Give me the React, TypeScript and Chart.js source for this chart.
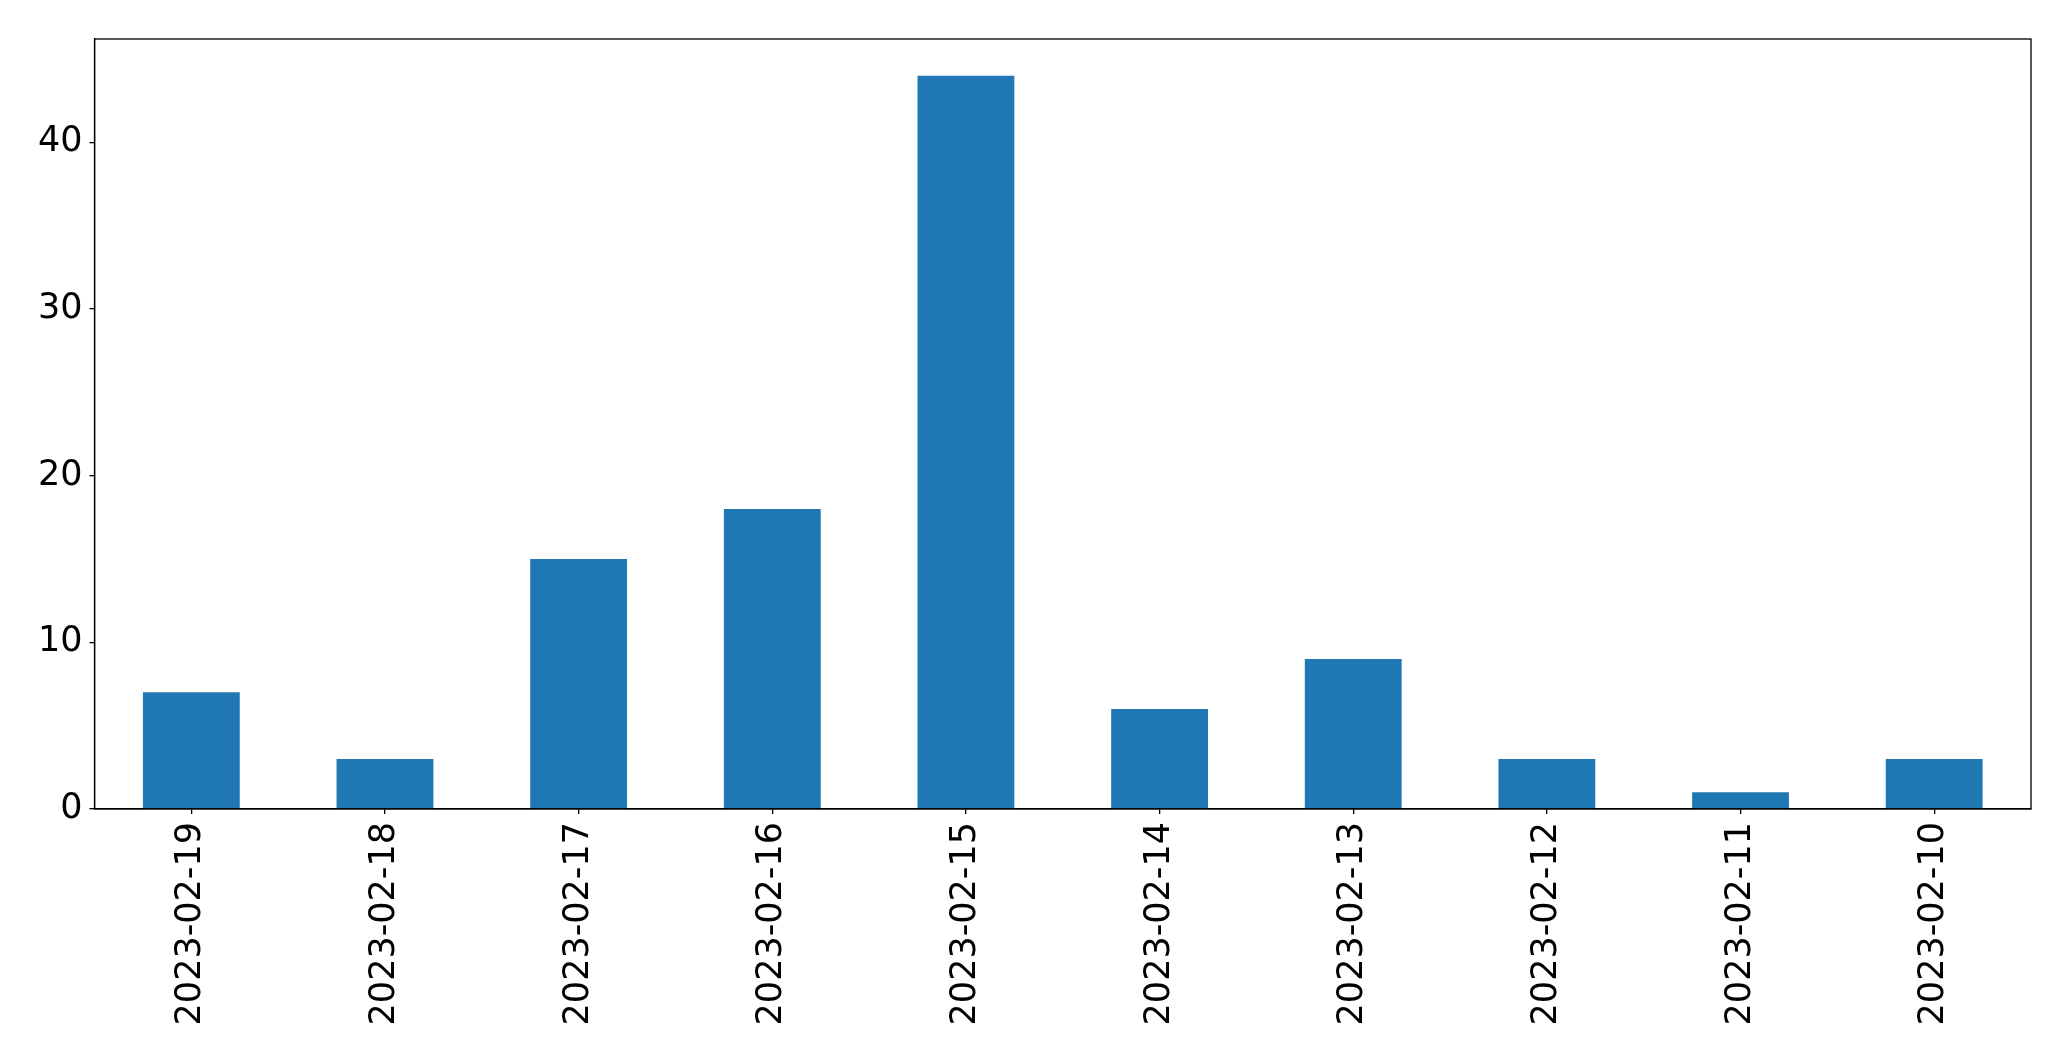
import React, { useEffect, useRef } from "react";
import { Chart, registerables } from "chart.js";

Chart.register(...registerables);

const categories = [
  "2023-02-19",
  "2023-02-18",
  "2023-02-17",
  "2023-02-16",
  "2023-02-15",
  "2023-02-14",
  "2023-02-13",
  "2023-02-12",
  "2023-02-11",
  "2023-02-10",
];
const values = [7, 3, 15, 18, 44, 6, 9, 3, 1, 3];
const yTicks = [0, 10, 20, 30, 40];

const frame = {
  id: "frame",
  afterDraw(chart: any) {
    const { ctx, chartArea } = chart;
    ctx.save();
    ctx.strokeStyle = "#000";
    ctx.lineWidth = 1.3;
    ctx.strokeRect(chartArea.left, chartArea.top, chartArea.right - chartArea.left, chartArea.bottom - chartArea.top);
    ctx.restore();
  },
};

export default function App() {
  const ref = useRef<HTMLCanvasElement>(null);
  useEffect(() => {
    document.body.style.margin = "0";
    const font = { family: "DejaVu Sans", size: 35 };
    const chart = new Chart(ref.current!, {
      type: "bar",
      data: {
        labels: categories,
        datasets: [
          {
            data: values,
            backgroundColor: "#1f77b4",
            borderWidth: 0,
            barPercentage: 0.5,
            categoryPercentage: 1,
          },
        ],
      },
      options: {
        animation: false,
        responsive: false,
        devicePixelRatio: 1,
        layout: { padding: { left: 0, top: 39, right: 40, bottom: 0 } },
        plugins: { legend: { display: false }, tooltip: { enabled: false } },
        scales: {
          x: {
            type: "category",
            offset: true,
            grid: { display: true, offset: false, drawOnChartArea: false, drawTicks: true, tickLength: 5, color: "#000", lineWidth: 1.3 },
            border: { display: true, color: "#000", width: 1.3 },
            ticks: { color: "#000", font, maxRotation: 90, minRotation: 90, padding: 8, autoSkip: false },
            afterFit(scale: any) {
              scale.height = 252;
            },
          },
          y: {
            min: 0,
            max: 46.2,
            grid: { display: true, drawOnChartArea: false, drawTicks: true, tickLength: 5, color: "#000", lineWidth: 1.3 },
            border: { display: true, color: "#000", width: 1.3 },
            ticks: { color: "#000", font, padding: 7, stepSize: 10 },
            afterBuildTicks(scale: any) {
              scale.ticks = yTicks.map((v) => ({ value: v }));
            },
            afterFit(scale: any) {
              scale.width = 94.5;
            },
          },
        },
      },
      plugins: [frame],
    });
    return () => chart.destroy();
  }, []);
  return <canvas ref={ref} width={2071} height={1061} style={{ display: "block" }} />;
}
